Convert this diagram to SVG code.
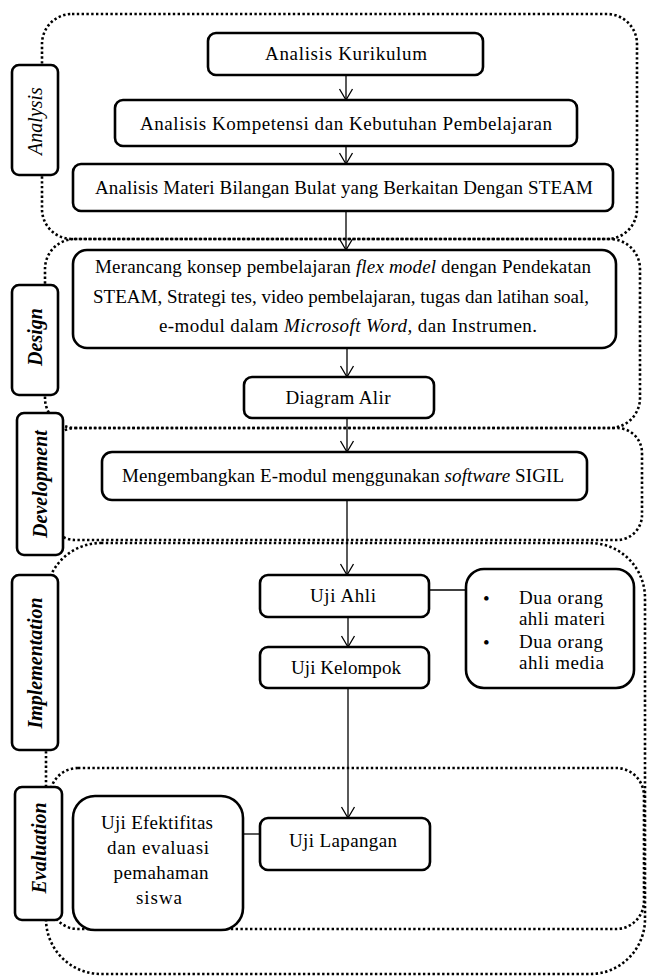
<svg xmlns="http://www.w3.org/2000/svg" width="647" height="976" viewBox="0 0 647 976" font-family="'Liberation Serif','Times New Roman',serif">
<style>
.dot{fill:none;stroke:#000;stroke-width:2.6;stroke-dasharray:2.4 2.4}
.box{fill:#fff;stroke:#000;stroke-width:2.6}
.lbl{fill:#fff;stroke:#000;stroke-width:2.6}
.t{font-family:"Liberation Serif","Times New Roman",serif;font-size:19px;fill:#000;text-anchor:middle}
.tl{font-family:"Liberation Serif","Times New Roman",serif;font-size:19px;fill:#000}
.lt{font-family:"Liberation Serif","Times New Roman",serif;font-size:20px;font-style:italic;font-weight:bold;fill:#000;text-anchor:middle}
.c{fill:none;stroke:#000;stroke-width:1.3}
</style>
<defs>
<marker id="ar" markerUnits="userSpaceOnUse" markerWidth="14" markerHeight="16" viewBox="0 0 14 16" refX="12" refY="8" orient="auto">
<path d="M1,1.5 L12,8 L1,14.5" fill="none" stroke="#000" stroke-width="1.3"/>
</marker>
</defs>
<g id="containers">
<rect id="c-analysis" class="dot" x="42" y="14" width="595" height="225" rx="30"/>
<rect id="c-design" class="dot" x="45" y="239" width="595" height="189" rx="30"/>
<rect id="c-development" class="dot" x="50" y="428" width="592" height="112" rx="25"/>
<rect id="c-implementation" class="dot" x="46" y="543" width="599" height="431" rx="55"/>
<rect id="c-evaluation" class="dot" x="50" y="768" width="594" height="161" rx="28"/>
</g>
<g id="connectors">
<line class="c" x1="346" y1="75" x2="346" y2="100" marker-end="url(#ar)"/>
<line class="c" x1="346" y1="146" x2="346" y2="164" marker-end="url(#ar)"/>
<line class="c" x1="346" y1="211" x2="346" y2="250" marker-end="url(#ar)"/>
<line class="c" x1="347" y1="348" x2="347" y2="377" marker-end="url(#ar)"/>
<line class="c" x1="347" y1="418" x2="347" y2="452" marker-end="url(#ar)"/>
<line class="c" x1="347" y1="500" x2="347" y2="575" marker-end="url(#ar)"/>
<line class="c" x1="348" y1="617" x2="348" y2="647" marker-end="url(#ar)"/>
<line class="c" x1="348" y1="688" x2="348" y2="818" marker-end="url(#ar)"/>
<line class="c" x1="429" y1="590" x2="466" y2="590"/>
<line class="c" x1="243" y1="834" x2="260" y2="834"/>
</g>
<g id="label-analysis">
<rect class="lbl" x="12" y="65" width="46" height="110" rx="7"/>
<text class="lt" style="font-weight:normal" transform="translate(42,121) rotate(-90)">Analysis</text>
</g>
<g id="label-design">
<rect class="lbl" x="12" y="285" width="46" height="110" rx="7"/>
<text class="lt" transform="translate(42,337) rotate(-90)">Design</text>
</g>
<g id="label-development">
<rect class="lbl" x="17" y="413" width="46" height="142" rx="7"/>
<text class="lt" transform="translate(47,484) rotate(-90)">Development</text>
</g>
<g id="label-implementation">
<rect class="lbl" x="12" y="575" width="46" height="175" rx="7"/>
<text class="lt" transform="translate(42,663) rotate(-90)">Implementation</text>
</g>
<g id="label-evaluation">
<rect class="lbl" x="15" y="787" width="47" height="133" rx="7"/>
<text class="lt" transform="translate(46,848) rotate(-90)">Evaluation</text>
</g>
<g id="n-kurikulum">
<rect class="box" x="208" y="33" width="275" height="42" rx="8"/>
<text class="t" x="346" y="60" textLength="162" lengthAdjust="spacing">Analisis Kurikulum</text>
</g>
<g id="n-kompetensi">
<rect class="box" x="115" y="100" width="462" height="46" rx="8"/>
<text class="t" x="346" y="130" textLength="412" lengthAdjust="spacing">Analisis Kompetensi dan Kebutuhan Pembelajaran</text>
</g>
<g id="n-materi">
<rect class="box" x="73" y="164" width="540" height="47" rx="8"/>
<text class="t" x="344" y="194" textLength="498" lengthAdjust="spacing">Analisis Materi Bilangan Bulat yang Berkaitan Dengan STEAM</text>
</g>
<g id="n-merancang">
<rect class="box" x="73" y="250" width="543" height="98" rx="14"/>
<text class="t" x="343" y="273" textLength="496" lengthAdjust="spacing">Merancang konsep pembelajaran <tspan font-style="italic">flex model</tspan> dengan Pendekatan</text>
<text class="t" x="341" y="303" textLength="496" lengthAdjust="spacing">STEAM, Strategi tes, video pembelajaran, tugas dan latihan soal,</text>
<text class="t" x="348" y="332" textLength="378" lengthAdjust="spacing">e-modul dalam <tspan font-style="italic">Microsoft Word,</tspan> dan Instrumen.</text>
</g>
<g id="n-diagram">
<rect class="box" x="244" y="377" width="190" height="41" rx="8"/>
<text class="t" x="338" y="404" textLength="105" lengthAdjust="spacing">Diagram Alir</text>
</g>
<g id="n-mengembangkan">
<rect class="box" x="102" y="452" width="485" height="48" rx="10"/>
<text class="t" x="343" y="482" textLength="442" lengthAdjust="spacing">Mengembangkan E-modul menggunakan <tspan font-style="italic">software</tspan> SIGIL</text>
</g>
<g id="n-ujiahli">
<rect class="box" x="260" y="575" width="169" height="42" rx="8"/>
<text class="t" x="343" y="602" textLength="66" lengthAdjust="spacing">Uji Ahli</text>
</g>
<g id="n-ahli">
<rect class="box" x="466" y="569" width="168" height="119" rx="18"/>
<text class="tl" x="483" y="605">•</text>
<text class="tl" x="519" y="604" textLength="84" lengthAdjust="spacing">Dua orang</text>
<text class="tl" x="519" y="625" textLength="86" lengthAdjust="spacing">ahli materi</text>
<text class="tl" x="483" y="649">•</text>
<text class="tl" x="519" y="648" textLength="84" lengthAdjust="spacing">Dua orang</text>
<text class="tl" x="519" y="669" textLength="85" lengthAdjust="spacing">ahli media</text>
</g>
<g id="n-ujikelompok">
<rect class="box" x="260" y="647" width="169" height="41" rx="8"/>
<text class="t" x="346" y="674" textLength="110" lengthAdjust="spacing">Uji Kelompok</text>
</g>
<g id="n-efektifitas">
<rect class="box" x="73" y="796" width="170" height="134" rx="22"/>
<text class="t" x="157" y="829" textLength="112" lengthAdjust="spacing">Uji Efektifitas</text>
<text class="t" x="158" y="854" textLength="102" lengthAdjust="spacing">dan evaluasi</text>
<text class="t" x="161" y="879" textLength="95" lengthAdjust="spacing">pemahaman</text>
<text class="t" x="159" y="904" textLength="46" lengthAdjust="spacing">siswa</text>
</g>
<g id="n-ujilapangan">
<rect class="box" x="260" y="818" width="170" height="52" rx="8"/>
<text class="t" x="343" y="847" textLength="108" lengthAdjust="spacing">Uji Lapangan</text>
</g>
</svg>
